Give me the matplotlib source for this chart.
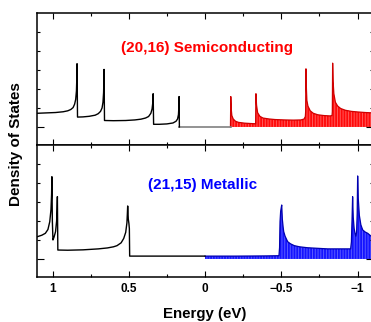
import matplotlib
matplotlib.use("Agg")
import matplotlib.pyplot as plt
from matplotlib.ticker import FixedLocator, FixedFormatter

plt.rcParams['font.family'] = ['Liberation Sans', 'DejaVu Sans']
plt.rcParams['hatch.linewidth'] = 0.7

# ---------------- data ----------------
# (20,16) semiconducting: occupied side (black), gap (gray), empty side (red)
semi_occ_E = [1.10, 1.04, 0.98, 0.93, 0.90, 0.88, 0.865, 0.855, 0.848, 0.843, 0.840, 0.839,
              0.836, 0.80, 0.76, 0.72, 0.70, 0.685, 0.675, 0.669, 0.665, 0.663, 0.662,
              0.659, 0.60, 0.52, 0.46, 0.42, 0.39, 0.37, 0.355, 0.347, 0.342, 0.340,
              0.337, 0.30, 0.25, 0.21, 0.19, 0.18, 0.174, 0.171, 0.170, 0.168]
semi_occ_D = [0.72, 0.74, 0.76, 0.80, 0.85, 0.92, 1.02, 1.20, 1.45, 1.90, 2.70, 3.33,
              0.52, 0.53, 0.56, 0.62, 0.70, 0.82, 1.00, 1.30, 1.80, 2.50, 3.03,
              0.34, 0.33, 0.34, 0.37, 0.41, 0.47, 0.55, 0.72, 0.95, 1.30, 1.75,
              0.14, 0.14, 0.16, 0.21, 0.30, 0.42, 0.65, 1.10, 1.60, 0.0]
semi_gap_E = [0.168, -0.168]
semi_gap_D = [0.0, 0.0]
semi_emp_E = [-0.167, -0.169, -0.172, -0.176, -0.185, -0.20, -0.22, -0.26, -0.30, -0.325,
              -0.332, -0.334, -0.338, -0.345, -0.36, -0.38, -0.42, -0.46, -0.52, -0.58,
              -0.63, -0.65, -0.658, -0.660, -0.662, -0.665, -0.668, -0.675, -0.69, -0.71,
              -0.74, -0.78, -0.82, -0.833, -0.835, -0.837, -0.840, -0.845, -0.855, -0.87,
              -0.89, -0.92, -0.96, -1.00, -1.05, -1.10]
semi_emp_D = [0.0, 1.60, 0.95, 0.60, 0.42, 0.30, 0.24, 0.20, 0.18, 0.17,
              0.17, 1.75, 1.15, 0.75, 0.56, 0.47, 0.42, 0.39, 0.37, 0.36,
              0.37, 0.42, 0.55, 0.80, 3.06, 2.00, 1.40, 1.10, 0.85, 0.72,
              0.64, 0.60, 0.58, 0.60, 0.80, 3.36, 2.40, 1.75, 1.30, 1.10,
              0.97, 0.88, 0.82, 0.79, 0.76, 0.74]

# (21,15) metallic: occupied side (black), empty side (blue)
met_occ_E = [1.10, 1.07, 1.047, 1.03, 1.018, 1.010, 1.006, 1.004, 1.001, 0.997, 0.990,
             0.980, 0.973, 0.970, 0.968, 0.965, 0.90, 0.80, 0.70, 0.64, 0.60, 0.577,
             0.55, 0.533, 0.52, 0.512, 0.509, 0.507, 0.503, 0.499, 0.496, 0.494,
             0.40, 0.20, 0.0]
met_occ_D = [1.17, 1.25, 1.35, 1.55, 1.96, 2.60, 3.40, 4.33, 2.00, 1.00, 1.15,
             1.44, 2.00, 2.70, 3.28, 0.47, 0.46, 0.48, 0.53, 0.58, 0.64, 0.70,
             0.85, 1.08, 1.40, 1.90, 2.40, 2.79, 2.10, 1.87, 1.60, 0.15,
             0.15, 0.15, 0.15]
met_emp_E = [0.0, -0.20, -0.40, -0.485, -0.489, -0.492, -0.496, -0.500, -0.503, -0.507,
             -0.512, -0.516, -0.525, -0.542, -0.56, -0.586, -0.62, -0.673, -0.74, -0.804,
             -0.88, -0.955, -0.960, -0.964, -0.968, -0.972, -0.978, -0.984, -0.989,
             -0.994, -0.998, -1.001, -1.005, -1.012, -1.022, -1.034, -1.05, -1.067,
             -1.089, -1.10]
met_emp_D = [0.15, 0.15, 0.16, 0.17, 0.60, 1.96, 2.50, 2.70, 2.84, 2.10,
             1.70, 1.44, 1.20, 0.91, 0.80, 0.70, 0.64, 0.59, 0.56, 0.53,
             0.53, 0.53, 0.90, 2.00, 3.28, 2.20, 1.60, 1.35, 1.20,
             1.40, 2.40, 4.37, 3.20, 2.30, 1.80, 1.53, 1.42, 1.35,
             1.20, 1.17]

x_major = [1, 0.5, 0, -0.5, -1]
x_major_labels = ['1', '0.5', '0', '\u22120.5', '\u22121']
x_minor = [0.75, 0.25, -0.25, -0.75]
y_major = [0]
y_minor = [1, 2, 3, 4, 5]

semi_label = '(20,16) Semiconducting'
met_label = '(21,15) Metallic'

# ---------------- figure ----------------
W, H = 371, 322
fig = plt.figure(figsize=(W / 100, H / 100), dpi=100)

def px_axes(x0, y0, x1, y1):
    return fig.add_axes([x0 / W, 1 - y1 / H, (x1 - x0) / W, (y1 - y0) / H])

ax1 = px_axes(37.25, 13, 372.75, 145)
ax2 = px_axes(37.25, 145, 372.75, 277)

for ax in (ax1, ax2):
    ax.set_xlim(1.1, -1.1)
    ax.set_ylim(-0.95, 6.0)
    ax.xaxis.set_major_locator(FixedLocator(x_major))
    ax.xaxis.set_minor_locator(FixedLocator(x_minor))
    ax.yaxis.set_major_locator(FixedLocator(y_major))
    ax.yaxis.set_minor_locator(FixedLocator(y_minor))
    ax.tick_params(which='both', direction='in', top=True, bottom=True,
                   left=True, right=True, width=0.8, color='black')
    ax.tick_params(axis='x', which='major', length=4)
    ax.tick_params(axis='x', which='minor', length=2.3)
    ax.tick_params(axis='y', which='major', length=5)
    ax.tick_params(axis='y', which='minor', length=2.3)
    ax.tick_params(axis='y', labelleft=False)
    for s in ax.spines.values():
        s.set_linewidth(1.1)
        s.set_color('black')

ax1.tick_params(axis='x', labelbottom=False)
ax2.xaxis.set_major_formatter(FixedFormatter(x_major_labels))
ax2.tick_params(axis='x', which='major', labelsize=8.5, pad=4.5)
for lab in ax2.get_xticklabels():
    lab.set_fontweight('bold')

# top panel
ax1.fill_between(semi_emp_E, semi_emp_D, 0, facecolor='#ff0a0a', edgecolor='#ff5a5a',
                 hatch='||||||', linewidth=0)
ax1.plot(semi_emp_E, semi_emp_D, color='#d00000', lw=0.9)
ax1.plot(semi_gap_E, semi_gap_D, color='#808080', lw=1.2)
ax1.plot(semi_occ_E, semi_occ_D, color='black', lw=1.0)
ax1.text(0.507, 0.735, semi_label, transform=ax1.transAxes, ha='center', va='center',
         color='#ff0000', fontsize=11, fontweight='bold')

# bottom panel
ax2.fill_between(met_emp_E, met_emp_D, 0, facecolor='#1414ff', edgecolor='#5a5aff',
                 hatch='||||||', linewidth=0)
ax2.plot(met_emp_E, met_emp_D, color='#0000b0', lw=0.9)
ax2.plot(met_occ_E, met_occ_D, color='black', lw=1.0)
ax2.text(0.4925, 0.70, met_label, transform=ax2.transAxes, ha='center', va='center',
         color='#0000ff', fontsize=11, fontweight='bold')

fig.text(205 / W, 1 - 314 / H, 'Energy (eV)', ha='center', va='center',
         fontsize=10.8, fontweight='bold')
fig.text(16 / W, 1 - 144 / H, 'Density of States', ha='center', va='center',
         rotation=90, fontsize=11, fontweight='bold')

fig.savefig('out.png', dpi=100)
